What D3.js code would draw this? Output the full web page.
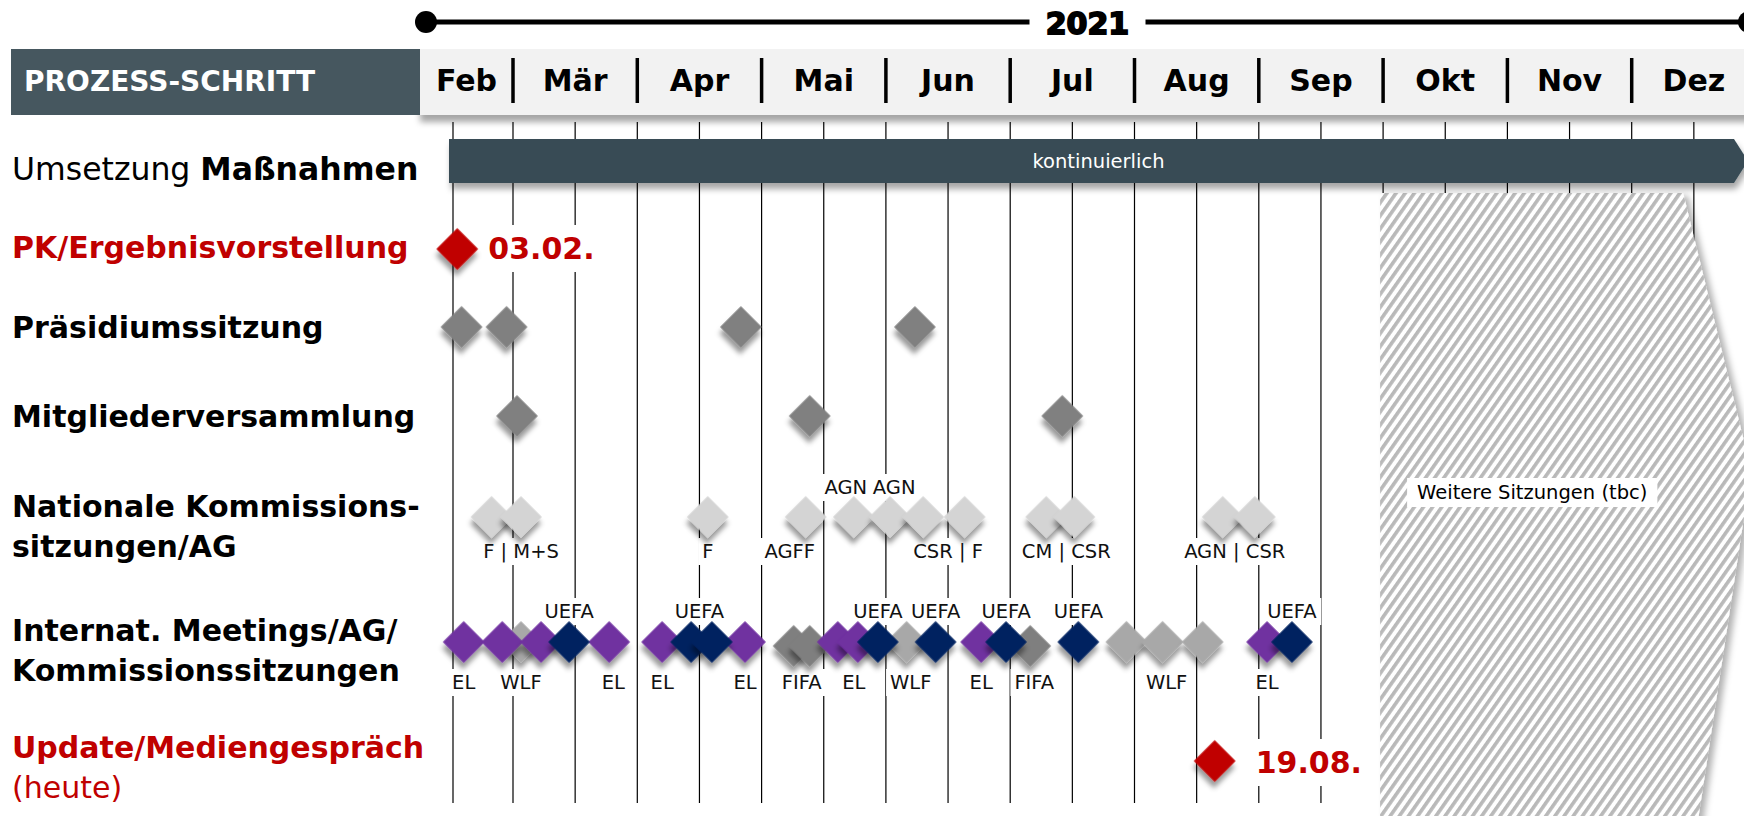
<!DOCTYPE html>
<html><head><meta charset="utf-8">
<script src="https://cdn.jsdelivr.net/npm/d3@7"></script>
<style>
html,body{margin:0;padding:0;background:#fff;overflow:hidden;}
svg{display:block;font-family:"DejaVu Sans",sans-serif;}
</style></head><body>
<svg id="chart" width="1744" height="816"></svg>
<script>
// ---------------- DATA ----------------
const year = "2021";
const months = ["Feb","Mär","Apr","Mai","Jun","Jul","Aug","Sep","Okt","Nov","Dez"];
const headerTitle = "PROZESS-SCHRITT";

const rowKeys = ["umsetzung","pk","praesidium","mitglieder","national","internat","update"];
const rowLabels = [
  {key:"umsetzung", color:"#000", lines:[[{t:"Umsetzung ",b:false},{t:"Maßnahmen",b:true}]]},
  {key:"pk", color:"#c00000", lines:[[{t:"PK/Ergebnisvorstellung",b:true}]]},
  {key:"praesidium", color:"#000", lines:[[{t:"Präsidiumssitzung",b:true}]]},
  {key:"mitglieder", color:"#000", lines:[[{t:"Mitgliederversammlung",b:true}]]},
  {key:"national", color:"#000", lines:[[{t:"Nationale Kommissions-",b:true}],[{t:"sitzungen/AG",b:true}]]},
  {key:"internat", color:"#000", lines:[[{t:"Internat. Meetings/AG/",b:true}],[{t:"Kommissionssitzungen",b:true}]]},
  {key:"update", color:"#c00000", lines:[[{t:"Update/Mediengespräch",b:true}],[{t:"(heute)",b:false}]]}
];

const continuousStart = "2021-02-01";
const continuousEnd = "2021-12-31";
const continuousLabel = "kontinuierlich";

const pendingStart = "2021-10-01";
const pendingLabel = "Weitere Sitzungen (tbc)";

const pkDate = "2021-02-03";
const pkLabel = "03.02.";
const updateDate = "2021-08-21";
const updateLabel = "19.08.";

const praesidium = ["2021-02-05","2021-02-26","2021-04-26","2021-06-08"];
const mitglieder = ["2021-03-02","2021-05-13","2021-07-14"];

const national = ["2021-02-19","2021-03-03","2021-04-18","2021-05-12","2021-05-24","2021-06-02",
                  "2021-06-10","2021-06-20","2021-07-10","2021-07-17","2021-08-23","2021-08-31"];
const nationalLabels = [
  {date:"2021-03-03", text:"F | M+S", pos:"below"},
  {date:"2021-04-18", text:"F", pos:"below"},
  {date:"2021-05-08", text:"AGFF", pos:"below"},
  {date:"2021-05-22", text:"AGN", pos:"above"},
  {date:"2021-06-03", text:"AGN", pos:"above"},
  {date:"2021-06-16", text:"CSR | F", pos:"below"},
  {date:"2021-07-15", text:"CM | CSR", pos:"below"},
  {date:"2021-08-26", text:"AGN | CSR", pos:"below"}
];

const internatDates = ["2021-02-06","2021-02-24","2021-03-03","2021-03-08","2021-03-15","2021-03-25",
  "2021-04-07","2021-04-14","2021-04-19","2021-04-27","2021-05-09","2021-05-13","2021-05-20","2021-05-25",
  "2021-05-30","2021-06-06","2021-06-13","2021-06-24","2021-06-30","2021-07-06","2021-07-18","2021-07-30",
  "2021-08-08","2021-08-18","2021-09-03","2021-09-09"];
const internatTypes = ["EL","EL","WLF","EL","UEFA","EL",
  "EL","UEFA","UEFA","EL","FIFA","FIFA","EL","EL",
  "UEFA","WLF","UEFA","EL","UEFA","FIFA","UEFA","WLF",
  "WLF","WLF","EL","UEFA"];
const internatLabels = [
  {date:"2021-03-15", text:"UEFA", pos:"above"},
  {date:"2021-04-16", text:"UEFA", pos:"above"},
  {date:"2021-05-30", text:"UEFA", pos:"above"},
  {date:"2021-06-13", text:"UEFA", pos:"above"},
  {date:"2021-06-30", text:"UEFA", pos:"above"},
  {date:"2021-07-18", text:"UEFA", pos:"above"},
  {date:"2021-09-09", text:"UEFA", pos:"above"},
  {date:"2021-02-06", text:"EL", pos:"below"},
  {date:"2021-03-03", text:"WLF", pos:"below"},
  {date:"2021-03-26", text:"EL", pos:"below"},
  {date:"2021-04-07", text:"EL", pos:"below"},
  {date:"2021-04-27", text:"EL", pos:"below"},
  {date:"2021-05-11", text:"FIFA", pos:"below"},
  {date:"2021-05-24", text:"EL", pos:"below"},
  {date:"2021-06-07", text:"WLF", pos:"below"},
  {date:"2021-06-24", text:"EL", pos:"below"},
  {date:"2021-07-07", text:"FIFA", pos:"below"},
  {date:"2021-08-09", text:"WLF", pos:"below"},
  {date:"2021-09-03", text:"EL", pos:"below"}
];

// ---------------- STYLE / LAYOUT ----------------
const W = 1744, H = 816;
const typeStyle = {
  WLF:{fill:"#a8a8a8", z:0, dy:0},
  FIFA:{fill:"#7f7f7f", z:0, dy:4},
  EL:{fill:"#7030a0", z:1, dy:0},
  UEFA:{fill:"#002060", z:2, dy:0}
};
const parse = d3.timeParse("%Y-%m-%d");

const monthStarts = d3.timeMonth.range(new Date(2021,1,1), new Date(2022,0,2));
const x = d3.scaleTime()
  .domain(monthStarts)
  .range(monthStarts.map((d,i) => i === 0 ? 453 : 513 + (i-1)*124.3));

const rowY = d3.scaleOrdinal().domain(rowKeys).range([161,249,327,416,517,642,761]);
const rowLabelY = d3.scaleOrdinal().domain(rowKeys).range([180,258,338,427,517,641,758]);

const svg = d3.select("#chart");
const defs = svg.append("defs");
function shadow(id, dx, dy, sd, op){
  const f = defs.append("filter").attr("id",id).attr("x","-50%").attr("y","-50%").attr("width","200%").attr("height","200%");
  f.append("feDropShadow").attr("dx",dx).attr("dy",dy).attr("stdDeviation",sd)
    .attr("flood-color","#000").attr("flood-opacity",op);
}
shadow("dsDia",4,5,2.5,0.4);
shadow("dsBar",2,6,3,0.35);
shadow("dsHead",0,7,3,0.35);
shadow("dsHatch",5,3,3,0.3);
const pat = defs.append("pattern").attr("id","hatch").attr("width",7.5).attr("height",7.5)
  .attr("patternUnits","userSpaceOnUse").attr("patternTransform","rotate(35)");
pat.append("rect").attr("width",7.5).attr("height",7.5).attr("fill","#fff");
pat.append("rect").attr("width",3.6).attr("height",7.5).attr("fill","#b9b9b9");

const gridLayer = svg.append("g");
const hatchLayer = svg.append("g");
const barLayer = svg.append("g");
const headLayer = svg.append("g");
const bgLayer = svg.append("g");
const markLayer = svg.append("g");
const textLayer = svg.append("g");

// ---------------- GRID ----------------
const gridX = [];
monthStarts.slice(0, months.length).forEach((d,i) => {
  gridX.push(x(d));
  if (i > 0) gridX.push((x(d) + x(monthStarts[i+1])) / 2);
});
gridLayer.selectAll("line").data(gridX).join("line")
  .attr("x1",d=>d).attr("x2",d=>d).attr("y1",122).attr("y2",803)
  .attr("stroke","#000").attr("stroke-width",1.2);

// ---------------- HEADER ----------------
const headLeft = 420;
headLayer.append("rect").attr("x",headLeft).attr("y",49).attr("width",W-headLeft+10).attr("height",66)
  .attr("fill","#f2f2f2").attr("filter","url(#dsHead)");
headLayer.append("rect").attr("x",11).attr("y",49).attr("width",headLeft-11).attr("height",66).attr("fill","#46575f");
headLayer.append("text").attr("x",24).attr("y",91).attr("fill","#fff").attr("font-weight","bold")
  .attr("font-size",28).text(headerTitle);
months.forEach((m,i) => {
  const a = i === 0 ? headLeft : x(monthStarts[i]);
  const b = x(monthStarts[i+1]);
  headLayer.append("text").attr("x",(a+b)/2).attr("y",91).attr("text-anchor","middle")
    .attr("font-weight","bold").attr("font-size",30).attr("fill","#000").text(m);
  if (i > 0) headLayer.append("line").attr("x1",a).attr("x2",a).attr("y1",58).attr("y2",103)
    .attr("stroke","#000").attr("stroke-width",3.5);
});
// year line
const yl0 = 426, yl1 = 1749;
headLayer.append("line").attr("x1",yl0).attr("x2",yl1).attr("y1",22).attr("y2",22).attr("stroke","#000").attr("stroke-width",5);
headLayer.selectAll("circle.yr").data([yl0,yl1]).join("circle").attr("cx",d=>d).attr("cy",22).attr("r",11).attr("fill","#000");
const ymid = (yl0+yl1)/2;
headLayer.append("rect").attr("x",ymid-58).attr("y",8).attr("width",116).attr("height",30).attr("fill","#fff");
headLayer.append("text").attr("x",ymid).attr("y",34).attr("text-anchor","middle").attr("font-weight","bold")
  .attr("font-size",30).attr("fill","#000").attr("stroke","#000").attr("stroke-width",1.8).text(year);

// ---------------- ROW LABELS ----------------
rowLabels.forEach(r => {
  r.lines.forEach((ln, li) => {
    const t = textLayer.append("text").attr("x",12).attr("y",rowLabelY(r.key) + li*40)
      .attr("font-size", r.key === "umsetzung" ? 31.5 : 30).attr("fill",r.color);
    ln.forEach(s => t.append("tspan").attr("font-weight", s.b ? "bold" : "normal").text(s.t));
  });
});

// ---------------- LABEL HELPER ----------------
function label(px, py, text, o={}) {
  const t = textLayer.append("text").attr("x",px).attr("y",py)
    .attr("text-anchor",o.anchor||"middle").attr("font-size",o.size||19.5)
    .attr("font-weight",o.weight||"normal").attr("fill",o.fill||"#111").text(text);
  const b = t.node().getBBox();
  const padX = o.padX!=null?o.padX:4, padY = o.padY!=null?o.padY:2;
  bgLayer.append("rect").attr("x",b.x-padX).attr("y",b.y-padY)
    .attr("width",b.width+2*padX).attr("height",b.height+2*padY).attr("fill","#fff");
}

// ---------------- HATCH (pending) ----------------
const hl = x(parse(pendingStart)) - 3;
hatchLayer.append("polygon")
  .attr("points",[[hl,193],[hl+303,193],[hl+371,470],[hl+317,H+10],[hl,H+10]].map(p=>p.join(",")).join(" "))
  .attr("fill","url(#hatch)").attr("filter","url(#dsHatch)");
label(hl+37, 499, pendingLabel, {anchor:"start", padX:10, padY:3, fill:"#000"});

// ---------------- CONTINUOUS BAR ----------------
const bx0 = x(parse(continuousStart)) - 4;
const tip = x(parse(continuousEnd)) - 4;
const bEnd = tip - 14;
const by = rowY("umsetzung");
barLayer.append("path")
  .attr("d",`M${bx0},${by-22}H${bEnd}L${tip},${by}L${bEnd},${by+22}H${bx0}Z`)
  .attr("fill","#374b55").attr("filter","url(#dsBar)");
barLayer.append("text").attr("x",(bx0+tip)/2).attr("y",by+7).attr("text-anchor","middle")
  .attr("font-size",19.5).attr("fill","#fff").text(continuousLabel);

// ---------------- DIAMONDS ----------------
const dia = d3.symbol(d3.symbolSquare, 870)();
function diamonds(data, rowKey, fillFn, dyFn) {
  markLayer.append("g").selectAll("path").data(data).join("path")
    .attr("d", dia)
    .attr("transform", d => `translate(${x(parse(d.date))},${rowY(rowKey) + (dyFn?dyFn(d):0)}) rotate(45)`)
    .attr("fill", fillFn).attr("filter","url(#dsDia)");
}

// PK
diamonds([{date:pkDate}], "pk", () => "#c00000");
label(x(parse(pkDate)) + 31, 259, pkLabel, {anchor:"start", size:30, weight:"bold", fill:"#c00000", padX:1, padY:6});
// Update
diamonds([{date:updateDate}], "update", () => "#c00000");
label(x(parse(updateDate)) + 41, 773, updateLabel, {anchor:"start", size:30, weight:"bold", fill:"#c00000", padX:1, padY:6});

diamonds(praesidium.map(d=>({date:d})), "praesidium", () => "#808080");
diamonds(mitglieder.map(d=>({date:d})), "mitglieder", () => "#808080");
diamonds(national.map(d=>({date:d})), "national", () => "#d4d4d4");

nationalLabels.forEach(l => label(x(parse(l.date)), l.pos === "above" ? 494 : 558, l.text));

const intl = internatDates.map((d,i) => ({date:d, type:internatTypes[i]}))
  .sort((a,b) => typeStyle[a.type].z - typeStyle[b.type].z || parse(a.date) - parse(b.date));
diamonds(intl, "internat", d => typeStyle[d.type].fill, d => typeStyle[d.type].dy);
internatLabels.forEach(l => label(x(parse(l.date)), l.pos === "above" ? 618 : 689, l.text));
</script>
</body></html>
